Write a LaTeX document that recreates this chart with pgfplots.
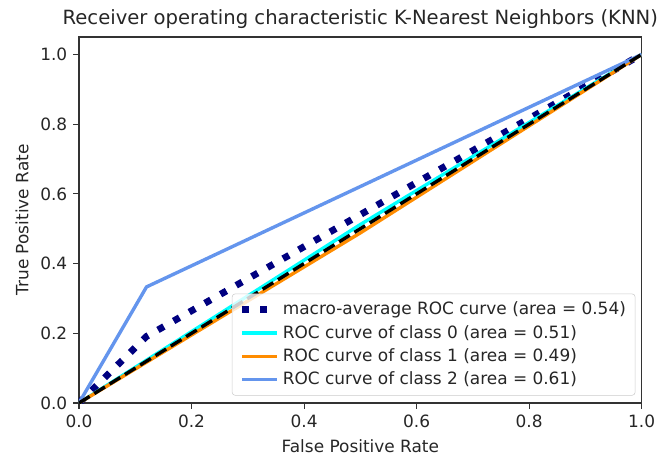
\documentclass[border=0pt]{standalone}
\usepackage{pgfplots}
\pgfplotsset{compat=1.18}
\usepackage{fontspec}
\setmainfont{DejaVu Sans}
\definecolor{aqua}{HTML}{00FFFF}
\definecolor{darkorange}{HTML}{FF8C00}
\definecolor{cornflower}{HTML}{6495ED}
\definecolor{navyc}{HTML}{000080}
\begin{document}
\fontsize{12.7}{15}\selectfont
\begin{tikzpicture}
\begin{axis}[
  at={(0,0)}, anchor=south west,
  scale only axis, width=422pt, height=274.5pt,
  xmin=0, xmax=1, ymin=0, ymax=1.05,
  xtick={0,0.2,0.4,0.6,0.8,1.0}, ytick={0,0.2,0.4,0.6,0.8,1.0},
  /pgf/number format/assume math mode=true,
  /pgf/number format/.cd, fixed, fixed zerofill, precision=1, /pgfplots/.cd,
  tick align=outside, tick pos=left, major tick length=4.4pt,
  every tick/.style={black!80, line width=0.8pt},
  axis line style={line width=0.8pt, black!80},
  ticklabel style={font=\fontsize{12.7}{14}\selectfont, text=black!85},
  xlabel={False Positive Rate}, ylabel={True Positive Rate},
  label style={font=\fontsize{12.7}{14}\selectfont, text=black!85},
  title={Receiver operating characteristic K-Nearest Neighbors (KNN)},
  title style={font=\fontsize{14.7}{17}\selectfont, text=black!85, yshift=-4pt},
  legend cell align=left,
  legend style={at={(rel axis cs:0.989,0.02)}, anchor=south east,
    draw=black!20, rounded corners=2.5pt, fill=white, fill opacity=0.8, text opacity=1,
    font=\fontsize{12.7}{13}\selectfont, row sep=2pt, inner xsep=5pt, inner ysep=4pt,
    text=black!85},
  legend image code/.code={\draw[#1] (0pt,0pt) -- (26pt,0pt);},
]
\addplot[navyc, line width=5.1pt, dash pattern=on 5.1pt off 8.4pt] coordinates {(0,0) (0.12,0.191) (1,1)};
\addlegendentry{macro-average ROC curve (area = 0.54)}
\addplot[aqua, line width=2.55pt] coordinates {(0,0) (0.5,0.512) (1,1)};
\addlegendentry{ROC curve of class 0 (area = 0.51)}
\addplot[darkorange, line width=2.55pt] coordinates {(0,0) (0.5,0.488) (1,1)};
\addlegendentry{ROC curve of class 1 (area = 0.49)}
\addplot[cornflower, line width=2.55pt] coordinates {(0,0) (0.12,0.333) (1,1)};
\addlegendentry{ROC curve of class 2 (area = 0.61)}
\addplot[black, line width=2.55pt, dash pattern=on 9.4pt off 4.1pt, forget plot] coordinates {(0,0) (1,1)};
\end{axis}
\pgfresetboundingbox
\path[use as bounding box] (-59.25pt,-40.5pt) rectangle (441pt,302.25pt);
\end{tikzpicture}
\end{document}
